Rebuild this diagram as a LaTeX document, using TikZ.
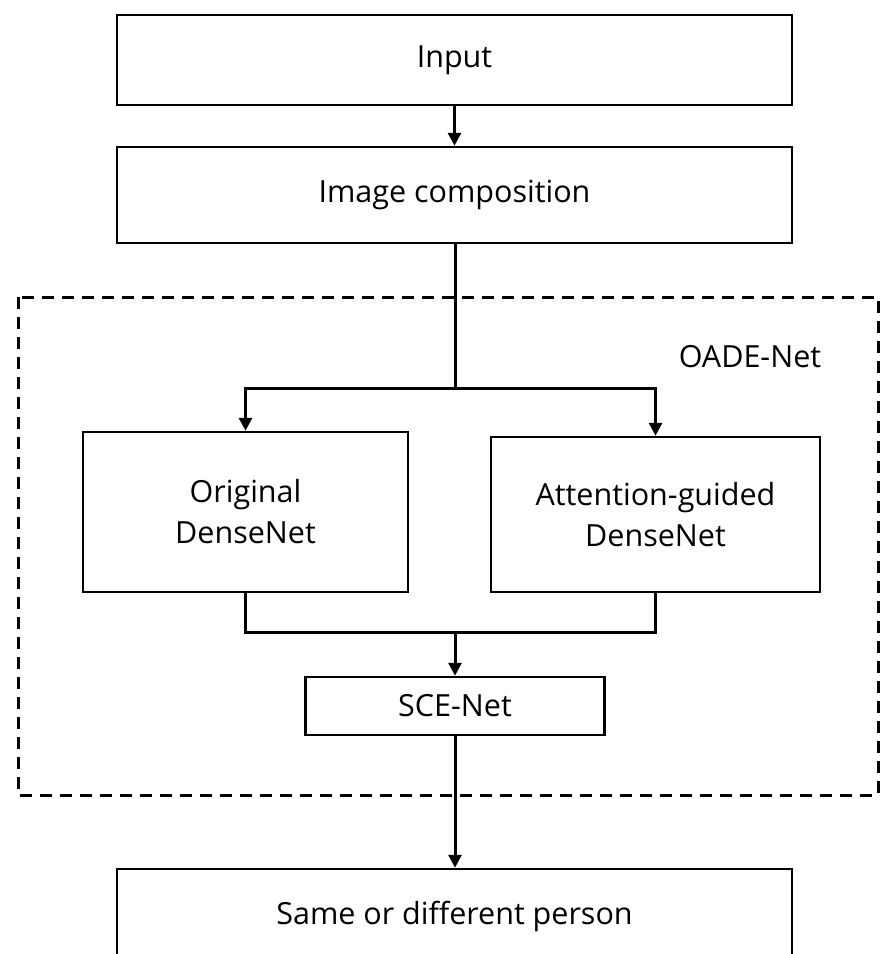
\documentclass[tikz,border=0pt]{standalone}
\usepackage{fontspec}
\setmainfont{Open Sans}
\usetikzlibrary{arrows.meta}

\begin{document}
\begin{tikzpicture}[x=1pt, y=-1pt,
		box/.style={draw, line width=2.5pt, align=center, inner sep=0pt, font=\fontsize{30.5}{41}\selectfont},
		flow/.style={line width=3pt, -{Triangle[length=13pt, width=13pt]}},
		link/.style={line width=3pt}]
			\clip (0,0) rectangle (880,954);

			\node[box, minimum width=675pt, minimum height=90pt] (input) at (454.5,60) {Input};
			\node[box, minimum width=675pt, minimum height=96pt] (imgcomp) at (454.5,195) {Image composition};

			% OADE-Net region
			\draw[dashed, line width=3pt, dash pattern=on 12pt off 8pt] (18,297) rectangle (878,795);
			\node[font=\fontsize{30.5}{41}\selectfont] (oade) at (750,357) {OADE-Net};

			\node[box, minimum width=325pt, minimum height=160pt] (orig) at (245.5,512) {Original\\DenseNet};
			\node[box, minimum width=329pt, minimum height=155pt] (attn) at (655.5,514.5) {Attention-guided\\DenseNet};
			\node[box, minimum width=299pt, minimum height=58pt] (sce) at (455,706) {SCE-Net};

			\node[box, minimum width=675pt, minimum height=94pt] (output) at (454.5,916) {Same or different person};

			\coordinate (split) at (455,388);
			\coordinate (merge) at (455,632);

			\draw[flow] (input) -- (imgcomp);
			\draw[link] (imgcomp.south -| split) -- (split);
			\draw[flow] (split) -| (orig.north);
			\draw[flow] (split) -| (attn.north);
			\draw[link] (orig.south) |- (merge) -| (attn.south);
			\draw[flow] (merge) -- (sce);
			\draw[flow] (sce) -- (output.north -| sce);
		\end{tikzpicture}
\end{document}
